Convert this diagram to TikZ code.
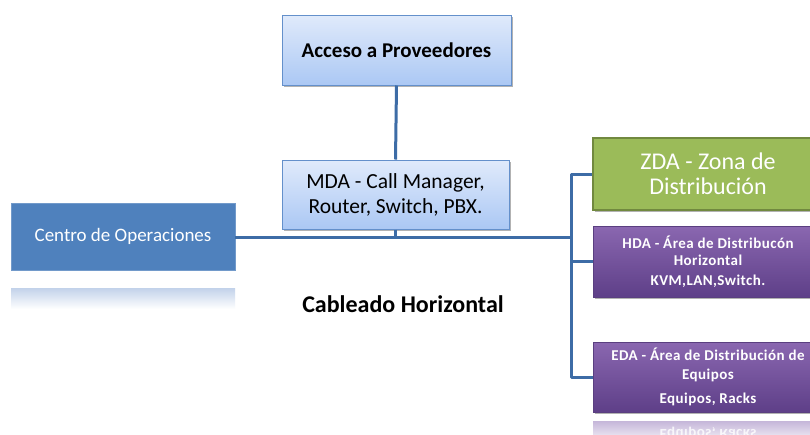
\documentclass[tikz,border=0pt]{standalone}
\usepackage{fontspec}
\setmainfont{Carlito}
\newfontfamily\spacedfont[LetterSpace=3]{Carlito}
\usetikzlibrary{shadows}
\definecolor{lblueT}{HTML}{E0EAFB}
\definecolor{lblueB}{HTML}{ABC8F4}
\definecolor{bborder}{HTML}{6490CB}
\definecolor{cblue}{HTML}{4F81BD}
\definecolor{conn}{HTML}{3D6CA6}
\definecolor{zgreen}{HTML}{9BBB59}
\definecolor{zborder}{HTML}{71893F}
\definecolor{purT}{HTML}{8A67B0}
\definecolor{purB}{HTML}{5E3F88}
\definecolor{purBorder}{HTML}{5A3F80}
\definecolor{reflBlue}{HTML}{C2D2EA}
\definecolor{reflPur}{HTML}{C5B6D9}
\begin{document}
\begin{tikzpicture}[x=1pt,y=-1pt,
  softshadow/.style={drop shadow={shadow xshift=1.5pt,shadow yshift=-1.5pt,opacity=0.3,fill=black}},
  lightbox/.style={draw=bborder,line width=1pt,top color=lblueT,bottom color=lblueB,softshadow,
    align=center,text=black,inner sep=0pt},
  bluebox/.style={fill=cblue,draw=cblue!80!white,line width=0.6pt,text=white,align=center,inner sep=0pt},
  greenbox/.style={fill=zgreen,draw=zborder,line width=1.6pt,text=white,align=center,inner sep=0pt,softshadow},
  purbox/.style={top color=purT,bottom color=purB,draw=purBorder,line width=0.6pt,text=white,align=center,inner sep=0pt,softshadow},
  conn/.style={draw=conn,line width=3pt,line join=round}]
\useasboundingbox (0,0) rectangle (810,434);
\clip (0,0) rectangle (810,434);
\fill[white] (0,0) rectangle (810,434);

% reflections
\shade[top color=reflBlue,bottom color=white] (11,288) rectangle (235,309);
\shade[top color=reflPur,bottom color=white] (593,421) rectangle (823,445);
\node[text=white,font=\spacedfont\bfseries\fontsize{15}{17}\selectfont,yscale=-1,opacity=0.8] (eqrefl) at (708,434) {Equipos, Racks};

\node[lightbox,minimum width=229pt,minimum height=70pt,font=\bfseries\fontsize{21}{24}\selectfont] (acc) at (396.5,50) {Acceso a Proveedores};
\node[lightbox,minimum width=227pt,minimum height=69pt,font=\fontsize{21.5}{25}\selectfont] (mda) at (395.5,194.5) {MDA - Call Manager,\\Router, Switch, PBX.};
\node[bluebox,minimum width=224pt,minimum height=67pt,font=\fontsize{19}{23}\selectfont] (cen) at (123,236.5) {Centro de Operaciones};
\node[greenbox,minimum width=230pt,minimum height=72pt,font=\fontsize{24}{25}\selectfont] (zda) at (708,174) {ZDA - Zona de\\Distribución};
\node[purbox,minimum width=230pt,minimum height=71pt,font=\spacedfont\bfseries\fontsize{15}{17}\selectfont] (hda) at (708,261.5) {HDA - Área de Distribucón\\Horizontal\\[3pt]KVM,LAN,Switch.};
\node[purbox,minimum width=230pt,minimum height=70pt,font=\spacedfont\bfseries\fontsize{15}{19}\selectfont] (eda) at (708,377) {EDA - Área de Distribución de\\Equipos\\[5pt]Equipos, Racks};

\node[font=\bfseries\fontsize{24}{27}\selectfont] (cab) at (403,304) {Cableado Horizontal};

\coordinate (br) at (571,237);
\draw[conn] (acc.south) -- (mda.north);
\draw[conn] (cen.east |- br) -- (br);
\draw[conn] (mda.south) -- (mda.south |- br);
\draw[conn] (zda.west) -- (zda.west -| br) -- (eda.west -| br) -- (eda.west);
\draw[conn] (hda.west -| br) -- (hda.west);
\end{tikzpicture}
\end{document}
